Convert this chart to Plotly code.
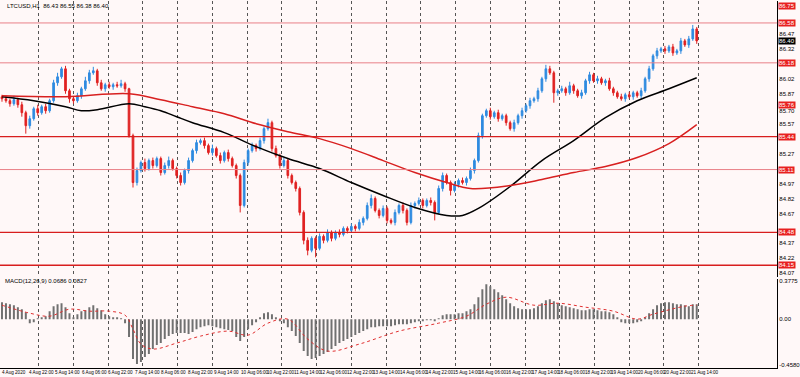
import plotly.graph_objects as go

title_text = "LTCUSD,H1  86.43 86.55 86.38 86.40"
macd_text = "MACD(12,26,9) 0.0686 0.0827"

# ---- candles (H1) ----
first_open = 85.84
close = [
    85.82, 85.80, 85.77, 85.81, 85.76, 85.68, 85.55, 85.62, 85.72, 85.68, 85.74, 85.70, 85.80, 85.98, 86.04, 86.12,
    85.90, 85.82, 85.80, 85.85, 85.92, 86.00, 86.08, 86.10, 85.98, 85.92, 85.96, 85.94, 85.96, 85.95, 85.97, 85.92,
    85.45, 84.98, 85.10, 85.18, 85.12, 85.20, 85.15, 85.22, 85.08, 85.15, 85.20, 85.12, 85.05, 84.98, 85.10, 85.20,
    85.30, 85.38, 85.40, 85.35, 85.28, 85.32, 85.25, 85.20, 85.28, 85.22, 85.15, 85.05, 84.75, 85.18, 85.30, 85.35,
    85.32, 85.40, 85.52, 85.58, 85.32, 85.25, 85.15, 85.20, 85.05, 84.98, 84.92, 84.68, 84.40, 84.30, 84.42, 84.32,
    84.44, 84.40, 84.48, 84.42, 84.48, 84.46, 84.52, 84.50, 84.54, 84.52, 84.58, 84.62, 84.75, 84.82, 84.70, 84.65,
    84.72, 84.60, 84.58, 84.68, 84.75, 84.70, 84.58, 84.75, 84.77, 84.80, 84.75, 84.80, 84.78, 84.68, 84.92, 85.05,
    84.98, 84.90, 84.96, 85.00, 84.98, 85.02, 85.10, 85.20, 85.45, 85.65, 85.70, 85.64, 85.68, 85.62, 85.65, 85.58,
    85.52, 85.58, 85.65, 85.70, 85.75, 85.80, 85.82, 85.90, 86.02, 86.12, 86.08, 85.88, 85.90, 85.92, 85.88, 85.95,
    85.90, 85.85, 85.88, 86.00, 86.06, 86.00, 86.02, 85.98, 86.00, 85.92, 85.88, 85.84, 85.82, 85.86, 85.84, 85.88,
    85.85, 85.90, 86.02, 86.12, 86.25, 86.30, 86.32, 86.30, 86.34, 86.28, 86.30, 86.40, 86.36, 86.42, 86.52, 86.40,
]
upper_wick = [
    0.02, 0.03, 0.02, 0.04, 0.02, 0.03, 0.02, 0.03, 0.02, 0.04, 0.02, 0.03, 0.02, 0.03, 0.04, 0.02,
    0.03, 0.02, 0.02, 0.03, 0.02, 0.04, 0.03, 0.04, 0.02, 0.03, 0.02, 0.03, 0.02, 0.03, 0.04, 0.02,
    0.01, 0.02, 0.03, 0.02, 0.04, 0.02, 0.03, 0.02, 0.02, 0.03, 0.04, 0.02, 0.02, 0.03, 0.02, 0.03,
    0.02, 0.03, 0.02, 0.03, 0.02, 0.04, 0.02, 0.03, 0.02, 0.03, 0.02, 0.02, 0.02, 0.03, 0.02, 0.03,
    0.02, 0.03, 0.02, 0.04, 0.02, 0.03, 0.02, 0.03, 0.02, 0.02, 0.02, 0.02, 0.02, 0.03, 0.02, 0.02,
    0.03, 0.02, 0.03, 0.02, 0.02, 0.03, 0.02, 0.02, 0.03, 0.02, 0.03, 0.02, 0.03, 0.04, 0.02, 0.02,
    0.03, 0.02, 0.02, 0.03, 0.02, 0.03, 0.02, 0.03, 0.02, 0.03, 0.02, 0.02, 0.03, 0.02, 0.03, 0.03,
    0.02, 0.02, 0.03, 0.02, 0.03, 0.02, 0.03, 0.02, 0.03, 0.02, 0.02, 0.03, 0.02, 0.03, 0.02, 0.02,
    0.02, 0.03, 0.02, 0.03, 0.02, 0.03, 0.02, 0.03, 0.02, 0.04, 0.03, 0.02, 0.02, 0.03, 0.02, 0.04,
    0.02, 0.02, 0.03, 0.02, 0.03, 0.02, 0.03, 0.02, 0.02, 0.03, 0.02, 0.02, 0.03, 0.02, 0.03, 0.02,
    0.02, 0.03, 0.02, 0.03, 0.02, 0.03, 0.02, 0.03, 0.02, 0.03, 0.02, 0.03, 0.02, 0.03, 0.04, 0.02,
]
lower_wick = [
    0.03, 0.02, 0.03, 0.02, 0.03, 0.04, 0.08, 0.03, 0.02, 0.03, 0.02, 0.03, 0.02, 0.02, 0.03, 0.02,
    0.03, 0.04, 0.03, 0.02, 0.03, 0.02, 0.03, 0.02, 0.03, 0.02, 0.03, 0.02, 0.03, 0.02, 0.02, 0.03,
    0.02, 0.05, 0.03, 0.02, 0.03, 0.02, 0.03, 0.02, 0.03, 0.02, 0.03, 0.02, 0.03, 0.03, 0.02, 0.03,
    0.02, 0.03, 0.02, 0.03, 0.02, 0.03, 0.02, 0.03, 0.02, 0.03, 0.02, 0.03, 0.07, 0.02, 0.03, 0.02,
    0.03, 0.02, 0.03, 0.02, 0.03, 0.02, 0.03, 0.02, 0.03, 0.02, 0.03, 0.03, 0.04, 0.05, 0.02, 0.09,
    0.02, 0.03, 0.02, 0.03, 0.02, 0.03, 0.02, 0.03, 0.02, 0.03, 0.02, 0.03, 0.02, 0.03, 0.02, 0.03,
    0.02, 0.03, 0.02, 0.03, 0.02, 0.03, 0.03, 0.02, 0.03, 0.02, 0.03, 0.02, 0.03, 0.08, 0.02, 0.03,
    0.02, 0.05, 0.02, 0.03, 0.02, 0.03, 0.02, 0.03, 0.02, 0.03, 0.02, 0.03, 0.02, 0.03, 0.02, 0.03,
    0.02, 0.03, 0.02, 0.03, 0.02, 0.03, 0.02, 0.03, 0.02, 0.03, 0.02, 0.10, 0.03, 0.02, 0.03, 0.02,
    0.03, 0.02, 0.03, 0.02, 0.03, 0.02, 0.03, 0.02, 0.03, 0.02, 0.03, 0.02, 0.02, 0.03, 0.02, 0.03,
    0.02, 0.03, 0.02, 0.03, 0.02, 0.03, 0.02, 0.03, 0.02, 0.03, 0.02, 0.03, 0.02, 0.03, 0.02, 0.03,
]

# ---- moving averages (sampled at bar indices) ----
ma_black_idx = [0, 8, 16, 20, 24, 32, 36, 40, 44, 48, 56, 64, 72, 80, 88, 96, 104, 112, 116, 120, 128, 136, 144, 152, 160, 168, 175]
ma_black = [85.84, 85.80, 85.74, 85.70, 85.71, 85.77, 85.74, 85.70, 85.64, 85.58, 85.48, 85.34, 85.22, 85.12, 84.98, 84.85,
            84.73, 84.65, 84.65, 84.72, 84.94, 85.20, 85.40, 85.63, 85.80, 85.92, 86.03]
ma_red_idx = [0, 16, 32, 40, 48, 56, 64, 72, 80, 88, 96, 104, 112, 118, 128, 136, 144, 152, 160, 168, 175]
ma_red = [85.85, 85.84, 85.87, 85.81, 85.74, 85.67, 85.57, 85.49, 85.42, 85.32, 85.20, 85.08, 84.98, 84.92, 84.95, 85.01,
          85.08, 85.14, 85.23, 85.37, 85.56]

# ---- MACD ----
macd_hist = [
    0.17, 0.16, 0.15, 0.14, 0.12, 0.10, 0.07, -0.04, -0.03, 0.01, 0.02, 0.03, 0.08, 0.13, 0.15, 0.16,
    0.12, 0.06, 0.02, 0.05, 0.08, 0.09, 0.12, 0.14, 0.11, 0.09, 0.05, 0.03, 0.02, 0.02, 0.01, -0.04,
    -0.18, -0.40, -0.45, -0.43, -0.38, -0.35, -0.30, -0.26, -0.24, -0.20, -0.17, -0.15, -0.14, -0.14, -0.14, -0.15,
    -0.13, -0.10, -0.08, -0.07, -0.06, -0.07, -0.08, -0.09, -0.10, -0.11, -0.12, -0.18, -0.22, -0.18, -0.10, -0.06,
    -0.03, 0.02, 0.06, 0.07, 0.05, 0.02, -0.02, -0.04, -0.08, -0.12, -0.17, -0.24, -0.32, -0.37, -0.40, -0.39,
    -0.37, -0.35, -0.33, -0.30, -0.27, -0.24, -0.22, -0.20, -0.18, -0.16, -0.14, -0.12, -0.10, -0.08, -0.08, -0.07,
    -0.07, -0.07, -0.07, -0.06, -0.05, -0.05, -0.05, -0.04, -0.03, -0.02, -0.02, -0.01, -0.01, -0.02, 0.01, 0.04,
    0.05, 0.05, 0.05, 0.06, 0.06, 0.08, 0.10, 0.15, 0.22, 0.30, 0.35, 0.33, 0.30, 0.27, 0.24, 0.20,
    0.16, 0.13, 0.11, 0.10, 0.10, 0.10, 0.11, 0.13, 0.16, 0.19, 0.20, 0.18, 0.16, 0.14, 0.13, 0.12,
    0.11, 0.10, 0.09, 0.09, 0.10, 0.10, 0.09, 0.08, 0.08, 0.07, 0.05, 0.02, -0.03, -0.04, -0.04, -0.04,
    -0.03, -0.02, 0.02, 0.06, 0.10, 0.14, 0.16, 0.17, 0.17, 0.16, 0.15, 0.15, 0.14, 0.13, 0.15, 0.15,
]
signal_idx = [0, 7, 12, 17, 22, 27, 31, 33, 35, 38, 44, 50, 57, 62, 67, 72, 77, 82, 90, 100, 110, 117, 122, 127, 134, 140,
              147, 154, 160, 164, 172, 175]
signal = [0.14, 0.06, 0.03, 0.10, 0.08, 0.08, 0.04, -0.10, -0.25, -0.30, -0.24, -0.17, -0.12, -0.16, -0.04, 0.00, -0.20,
          -0.32, -0.25, -0.12, -0.04, 0.03, 0.15, 0.22, 0.14, 0.16, 0.12, 0.08, 0.00, 0.05, 0.13, 0.14]

# ---- levels / labels ----
level_prices = [86.58, 86.18, 85.44, 85.11, 84.48, 84.15]
level_strong = [False, False, True, False, True, True]
label_prices = [86.75, 86.58, 86.18, 85.76, 85.44, 85.11, 84.48, 84.15]

# price-scale tick labels that remain visible beside the boxed level labels
price_ticks = [86.47, 86.32, 86.02, 85.87, 85.70, 85.57, 85.27, 84.97, 84.82, 84.67, 84.37, 84.22, 84.07]
macd_ticks = [0.38, 0.0, -0.46]
macd_tick_text = ["0.3775", "0.00", "-0.4580"]

date_labels = ["4 Aug 2020", "4 Aug 22:00", "5 Aug 14:00", "6 Aug 06:00", "6 Aug 22:00", "7 Aug 14:00",
               "8 Aug 06:00", "8 Aug 22:00", "9 Aug 14:00", "10 Aug 06:00", "10 Aug 22:00", "11 Aug 14:00",
               "12 Aug 06:00", "12 Aug 22:00", "13 Aug 14:00", "14 Aug 06:00", "14 Aug 22:00", "15 Aug 14:00",
               "16 Aug 06:00", "16 Aug 22:00", "17 Aug 14:00", "18 Aug 06:00", "18 Aug 22:00", "19 Aug 14:00",
               "20 Aug 06:00", "20 Aug 22:00", "21 Aug 14:00"]

# ---- derived ----
open_ = [first_open] + close[:-1]
high = [max(o, c) + u for o, c, u in zip(open_, close, upper_wick)]
low = [min(o, c) - d for o, c, d in zip(open_, close, lower_wick)]
idx = list(range(len(close)))

W, H = 800, 377
FONT = "Liberation Sans"
NARROW = "Liberation Sans Narrow, Liberation Sans"
BG = "#fff8f8"
UP = "#2f8be0"
DOWN = "#e02222"

fig = go.Figure()
fig.add_trace(go.Candlestick(
    x=idx, open=open_, high=high, low=low, close=close,
    increasing=dict(line=dict(color=UP, width=1), fillcolor=UP),
    decreasing=dict(line=dict(color=DOWN, width=1), fillcolor=DOWN),
    whiskerwidth=0, xaxis="x", yaxis="y", hoverinfo="skip", showlegend=False))
fig.add_trace(go.Scatter(x=ma_black_idx, y=ma_black, mode="lines", line=dict(color="#000000", width=1.5, shape="spline"),
                         xaxis="x", yaxis="y", showlegend=False))
fig.add_trace(go.Scatter(x=ma_red_idx, y=ma_red, mode="lines", line=dict(color="#d82020", width=1.5, shape="spline"),
                         xaxis="x", yaxis="y", showlegend=False))
fig.add_trace(go.Bar(x=list(range(len(macd_hist))), y=macd_hist, width=0.5, marker=dict(color="#707070", line=dict(width=0)),
                     xaxis="x", yaxis="y2", showlegend=False))
fig.add_trace(go.Scatter(x=signal_idx, y=signal, mode="lines", line=dict(color="#e03030", width=1, dash="dot", shape="spline"),
                         xaxis="x", yaxis="y2", showlegend=False))

shapes = []
for p, strong in zip(level_prices, level_strong):
    shapes.append(dict(type="line", xref="x domain", yref="y", x0=0, x1=1, y0=p, y1=p,
                       line=dict(color="#d81e1e" if strong else "#e98088", width=1.4 if strong else 1), layer="above"))

annotations = []
for p in label_prices:
    annotations.append(dict(xref="paper", yref="y", x=784 / W, y=p, xanchor="left", yanchor="middle",
                            text=f"{p:.2f}", showarrow=False, bgcolor="#e82020",
                            font=dict(color="white", size=6, family=FONT), borderpad=0))
annotations.append(dict(xref="paper", yref="y", x=784 / W, y=close[-1], xanchor="left", yanchor="middle",
                        text=f"{close[-1]:.2f}", showarrow=False, bgcolor="#000000",
                        font=dict(color="white", size=6, family=FONT), borderpad=0))
annotations.append(dict(xref="paper", yref="paper", x=5 / W, y=1 - 5 / H, xanchor="left", yanchor="middle",
                        text=title_text, showarrow=False, font=dict(color="#000", size=6, family=FONT)))
annotations.append(dict(xref="paper", yref="paper", x=3 / W, y=1 - 281 / H, xanchor="left", yanchor="middle",
                        text=macd_text, showarrow=False, font=dict(color="#000", size=6, family=FONT)))
label_step = 6.675
for k, t in enumerate(date_labels):
    annotations.append(dict(xref="x", yref="paper", x=k * label_step - 0.5, y=1 - 372 / H, xanchor="left",
                            yanchor="middle", text=t, showarrow=False,
                            font=dict(color="#000", size=4.6, family=NARROW)))

grid_pos = [9.25 + 8.75 * k for k in range(20)]

axis_common = dict(showline=True, linecolor="#000000", linewidth=1, ticks="", zeroline=False,
                   tickfont=dict(size=6, color="#000", family=FONT))

fig.update_layout(
    width=W, height=H, autosize=False,
    margin=dict(l=0, r=0, t=0, b=0, pad=0),
    paper_bgcolor=BG, plot_bgcolor=BG,
    showlegend=False,
    shapes=shapes, annotations=annotations,
    xaxis=dict(domain=[0, 783 / W], range=[-0.5, 195.25], anchor="y2", showline=True, linecolor="#000",
               showticklabels=False, ticks="", tickvals=grid_pos, showgrid=True, gridcolor="#555555",
               griddash="dot", gridwidth=1, zeroline=False, rangeslider=dict(visible=False), fixedrange=True),
    yaxis=dict(domain=[(H - 277) / H, 1], range=[84.03, 86.80], side="right", anchor="x",
               tickvals=price_ticks, ticktext=[f"{v:.2f}" for v in price_ticks], showgrid=False, **axis_common),
    yaxis2=dict(domain=[(H - 368) / H, (H - 279) / H], range=[-0.49, 0.40], side="right", anchor="x",
                tickvals=macd_ticks, ticktext=macd_tick_text, showgrid=False, **axis_common),
    boxgap=0.4,
)

fig.write_html("out.html",
               config={"displayModeBar": False, "staticPlot": True},
               post_script="document.body.style.margin='0';document.body.style.padding='0';"
                           "document.body.style.overflow='hidden';")
